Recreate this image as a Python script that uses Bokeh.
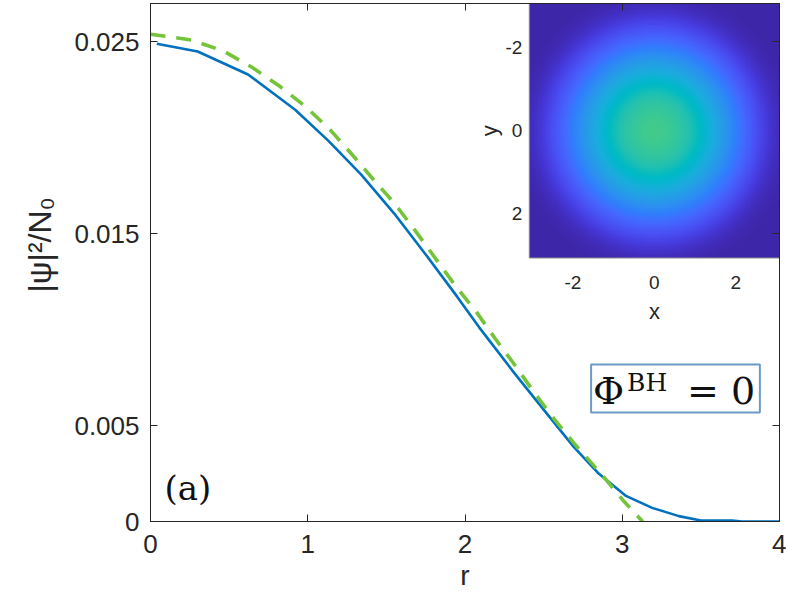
import numpy as np
from bokeh.plotting import figure
from bokeh.models import (Range1d, LinearAxis, FixedTicker, Label, LinearColorMapper,
                          BoxAnnotation, Title)
from bokeh.embed import file_html
from bokeh.resources import INLINE
from bokeh.core.properties import value

# ---------------- data ----------------
blue_r = [0.04, 0.30, 0.62, 0.92, 1.13, 1.34, 1.55, 1.75, 1.95, 2.09, 2.30, 2.50,
          2.69, 2.85, 3.02, 3.19, 3.36, 3.50, 3.70, 3.76, 4.00]
blue_v = [0.02490, 0.02450, 0.02330, 0.02146, 0.01985, 0.01808, 0.01605, 0.01392,
          0.01172, 0.01012, 0.00788, 0.00583, 0.00390, 0.00250, 0.00135, 0.00071,
          0.00028, 0.00005, 0.00005, 0.0, 0.0]

green_r = [0.0, 0.26, 0.47, 0.65, 0.82, 0.99, 1.15, 1.29, 1.42, 1.55, 1.68, 1.80,
           1.94, 2.07, 2.19, 2.32, 2.44, 2.57, 2.70, 2.86, 3.00, 3.13]
green_v = [0.0254, 0.0251, 0.0245, 0.02365, 0.02270, 0.02160, 0.02035, 0.01905,
           0.01780, 0.01660, 0.01520, 0.01385, 0.01228, 0.01095, 0.00955, 0.00812,
           0.00672, 0.00531, 0.00401, 0.00254, 0.00115, 0.0]

x_ticks = [0, 1, 2, 3, 4]
y_ticks = [0, 0.005, 0.015, 0.025]
y_tick_labels = ["0", "0.005", "0.015", "0.025"]

inset_ticks = [-2, 0, 2]
inset_tick_labels = ["-2", "0", "2"]
inset_extent = 3.07          # inset axes run from -extent to +extent
inset_color_high = 0.042     # density mapped to the top of the colour map

# ---------------- layout constants ----------------
W, H = 786, 593
B_LEFT, B_RIGHT, B_TOP, B_BOTTOM = 150, 7, 3, 71
frame_w = W - B_LEFT - B_RIGHT
frame_h = H - B_TOP - B_BOTTOM
x_end = 4.0
y_end = 0.0270
ppx = frame_w / x_end          # pixels per unit r
ppy = frame_h / y_end          # pixels per unit density

# inset occupies the upper-right corner of the frame
inset_w_px = frame_w * 255.0 / 641.0
inset_h_px = frame_h * 255.0 / 519.0

TEXT = "#262626"
SANS = "Liberation Sans"
SERIF = "DejaVu Serif"

# parula colour map (MATLAB), 64 anchors -> 256 colours
parula64 = [
    (0.2422, 0.1504, 0.6603), (0.2504, 0.1650, 0.7076), (0.2578, 0.1818, 0.7511),
    (0.2647, 0.1978, 0.7952), (0.2706, 0.2147, 0.8364), (0.2751, 0.2342, 0.8710),
    (0.2783, 0.2559, 0.8991), (0.2803, 0.2782, 0.9221), (0.2813, 0.3006, 0.9414),
    (0.2810, 0.3228, 0.9579), (0.2795, 0.3447, 0.9717), (0.2760, 0.3667, 0.9829),
    (0.2699, 0.3892, 0.9906), (0.2602, 0.4123, 0.9952), (0.2440, 0.4358, 0.9988),
    (0.2206, 0.4603, 0.9973), (0.1963, 0.4847, 0.9892), (0.1834, 0.5074, 0.9798),
    (0.1786, 0.5289, 0.9682), (0.1764, 0.5499, 0.9520), (0.1687, 0.5703, 0.9359),
    (0.1540, 0.5902, 0.9218), (0.1460, 0.6091, 0.9079), (0.1380, 0.6276, 0.8973),
    (0.1248, 0.6459, 0.8883), (0.1113, 0.6635, 0.8763), (0.0952, 0.6798, 0.8598),
    (0.0689, 0.6948, 0.8394), (0.0297, 0.7082, 0.8163), (0.0036, 0.7203, 0.7917),
    (0.0067, 0.7312, 0.7660), (0.0433, 0.7411, 0.7394), (0.0964, 0.7500, 0.7120),
    (0.1408, 0.7584, 0.6842), (0.1717, 0.7670, 0.6554), (0.1938, 0.7758, 0.6251),
    (0.2161, 0.7843, 0.5923), (0.2470, 0.7918, 0.5567), (0.2906, 0.7973, 0.5188),
    (0.3406, 0.8008, 0.4789), (0.3909, 0.8029, 0.4354), (0.4456, 0.8024, 0.3909),
    (0.5044, 0.7993, 0.3480), (0.5616, 0.7942, 0.3045), (0.6174, 0.7876, 0.2612),
    (0.6720, 0.7793, 0.2227), (0.7242, 0.7698, 0.1910), (0.7738, 0.7598, 0.1646),
    (0.8203, 0.7498, 0.1535), (0.8634, 0.7406, 0.1596), (0.9035, 0.7330, 0.1774),
    (0.9393, 0.7288, 0.2100), (0.9728, 0.7298, 0.2394), (0.9956, 0.7434, 0.2371),
    (0.9970, 0.7659, 0.2199), (0.9952, 0.7893, 0.2028), (0.9892, 0.8136, 0.1885),
    (0.9786, 0.8386, 0.1766), (0.9676, 0.8639, 0.1643), (0.9610, 0.8890, 0.1537),
    (0.9597, 0.9135, 0.1423), (0.9628, 0.9373, 0.1265), (0.9691, 0.9606, 0.1064),
    (0.9769, 0.9839, 0.0805)]
arr64 = np.array(parula64)
t64 = np.linspace(0, 1, 64)
t256 = np.linspace(0, 1, 256)
pal = []
for t in t256:
    rgb = [np.interp(t, t64, arr64[:, k]) for k in range(3)]
    pal.append("#%02x%02x%02x" % tuple(int(round(255 * c)) for c in rgb))

# ---------------- figure ----------------
p = figure(width=W, height=H, x_range=Range1d(0, x_end), y_range=Range1d(0, y_end),
           output_backend="svg", toolbar_location=None,
           min_border_left=B_LEFT, min_border_right=B_RIGHT,
           min_border_top=B_TOP, min_border_bottom=B_BOTTOM)
p.xgrid.visible = False
p.ygrid.visible = False
p.outline_line_color = TEXT
p.outline_line_width = 1
p.background_fill_color = "white"
p.border_fill_color = "white"

# extra ranges so the inset image sits in the upper-right corner of the frame
ppu_x = inset_w_px / (2 * inset_extent)
ppu_y = inset_h_px / (2 * inset_extent)
ix_start = -inset_extent - (frame_w - inset_w_px) / ppu_x
iy_bottom = inset_extent + (frame_h - inset_h_px) / ppu_y
p.extra_x_ranges = {"ix": Range1d(ix_start, inset_extent)}
p.extra_y_ranges = {"iy": Range1d(iy_bottom, -inset_extent)}

# main curves
p.line(blue_r, blue_v, line_color="#0072BD", line_width=2.6)
p.line(green_r, green_v, line_color="#74C43A", line_width=3.6, line_dash="15 11")

# inset image: the blue radial profile spread over the x-y plane
g = np.linspace(-inset_extent, inset_extent, 160)
XX, YY = np.meshgrid(g, g)
img = np.interp(np.sqrt(XX ** 2 + YY ** 2), blue_r, blue_v)
mapper = LinearColorMapper(palette=pal, low=0.0, high=inset_color_high)
p.image(image=[img], x=-inset_extent, y=-inset_extent, dw=2 * inset_extent,
        dh=2 * inset_extent, color_mapper=mapper, x_range_name="ix", y_range_name="iy")
p.quad(left=[-inset_extent], right=[inset_extent], bottom=[inset_extent],
       top=[-inset_extent], fill_color=None, line_color="#8c8c8c", line_width=1,
       x_range_name="ix", y_range_name="iy")

# inset tick labels and axis labels
FS_IN = "19px"
p.text(x=[-inset_extent] * len(inset_ticks), y=inset_ticks, text=inset_tick_labels,
       x_offset=-7, text_align="right", text_baseline="middle",
       text_font=value(SANS), text_font_size=FS_IN, text_color=TEXT,
       x_range_name="ix", y_range_name="iy")
p.text(x=inset_ticks, y=[inset_extent] * len(inset_ticks), text=inset_tick_labels,
       y_offset=24, text_align="center", text_baseline="middle",
       text_font=value(SANS), text_font_size=FS_IN, text_color=TEXT,
       x_range_name="ix", y_range_name="iy")
p.text(x=[0], y=[inset_extent], text=["x"], y_offset=53, text_align="center",
       text_baseline="middle", text_font=value(SANS), text_font_size="22px",
       text_color=TEXT, x_range_name="ix", y_range_name="iy")
p.text(x=[-inset_extent], y=[0], text=["y"], x_offset=-40, angle=np.pi / 2,
       text_align="center", text_baseline="middle", text_font=value(SANS),
       text_font_size="22px", text_color=TEXT, x_range_name="ix", y_range_name="iy")

# main axes
for ax in p.xaxis + p.yaxis:
    ax.axis_line_color = TEXT
    ax.major_tick_line_color = TEXT
    ax.major_tick_in = 7
    ax.major_tick_out = 0
    ax.minor_tick_line_color = None
    ax.major_label_text_font = SANS
    ax.major_label_text_font_size = "26px"
    ax.major_label_text_color = TEXT
    ax.axis_label_text_font = SANS
    ax.axis_label_text_font_style = "normal"
    ax.axis_label_text_color = TEXT

p.xaxis.ticker = FixedTicker(ticks=x_ticks)
p.xaxis.axis_label = "r"
p.xaxis.axis_label_text_font_size = "28px"
p.xaxis.major_label_standoff = 13
p.xaxis.axis_label_standoff = 4

p.yaxis.ticker = FixedTicker(ticks=y_ticks)
p.yaxis.major_label_overrides = {t: s for t, s in zip(y_ticks, y_tick_labels)}
p.yaxis.major_label_standoff = 11

# y axis title: a left-side title starting where the reference label starts
ytitle_kw = dict(text="|ψ|²/N₀", align="left", offset=229, text_font=SANS,
                 text_font_size="32px", text_font_style="normal", text_color=TEXT)
if "standoff" in Title.properties():
    ytitle_kw["standoff"] = 28
p.add_layout(Title(**ytitle_kw), "left")

# mirrored tick marks on top and right (box on), without labels
for loc, ticks in (("above", x_ticks), ("right", y_ticks)):
    ax = LinearAxis(ticker=FixedTicker(ticks=ticks), major_label_text_font_size="1px",
                    major_label_text_color=None, major_tick_in=7, major_tick_out=0,
                    major_label_standoff=0, minor_tick_line_color=None,
                    axis_line_color=TEXT, major_tick_line_color=TEXT)
    p.add_layout(ax, loc)

# annotations
def px_r(px):
    """my-frame pixel x -> data r"""
    return (px - B_LEFT) / ppx

def py_v(py):
    """my-frame pixel y -> data value"""
    return y_end - (py - B_TOP) / ppy

def ref_r(px):
    """reference pixel x -> data r"""
    return (px - 152.0) / 160.25

def ref_v(py):
    """reference pixel y -> data value"""
    return (522.0 - py) / 19200.0

box_l, box_r = ref_r(601), ref_r(773)
p.add_layout(BoxAnnotation(left=box_l, right=box_r, top=ref_v(365), bottom=ref_v(413),
                           fill_color="white", fill_alpha=1.0,
                           line_color="#6A9BC9", line_alpha=1.0, line_width=2))
box_l_px = B_LEFT + box_l * ppx
ink = "#111111"
p.add_layout(Label(x=px_r(box_l_px + 2), y=py_v(391), text="Φ", text_font=SERIF,
                   text_font_size="38px", text_color=ink, text_baseline="alphabetic"))
p.add_layout(Label(x=px_r(box_l_px + 36), y=py_v(383), text="BH", text_font=SERIF,
                   text_font_size="25px", text_color=ink, text_baseline="alphabetic"))
p.add_layout(Label(x=px_r(box_l_px + 96), y=py_v(391), text="= 0", text_font=SERIF,
                   text_font_size="38px", text_color=ink, text_baseline="alphabetic"))
p.add_layout(Label(x=px_r(164), y=py_v(488), text="(a)", text_font=SERIF,
                   text_font_size="34px", text_color=ink, text_baseline="alphabetic"))

open("out.html", "w").write(file_html(p, INLINE))
